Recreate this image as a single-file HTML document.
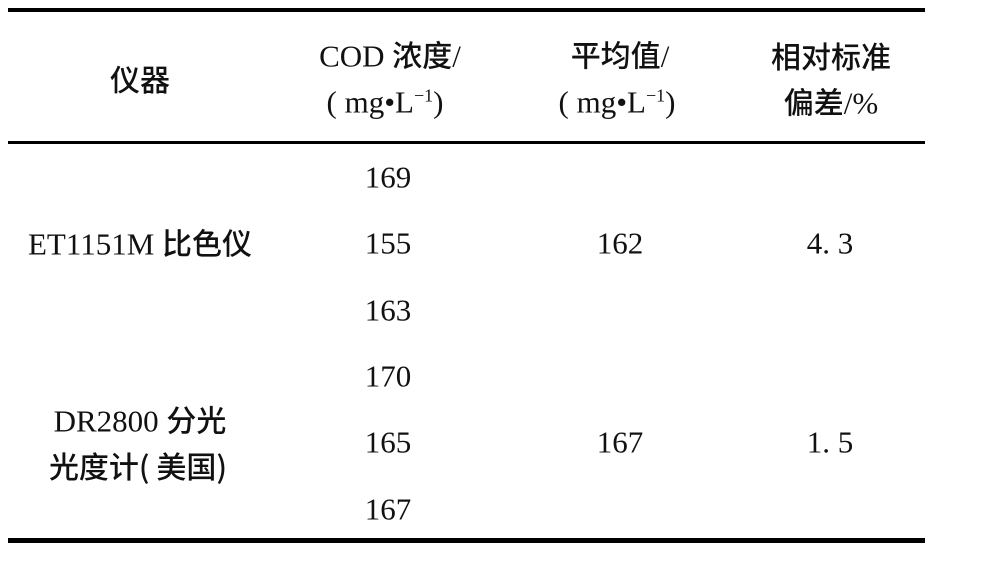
<!DOCTYPE html>
<html><head><meta charset="utf-8"><style>
html,body{margin:0;padding:0;background:#fff;}
body{width:985px;height:565px;position:relative;overflow:hidden;color:#111;}
.r{position:absolute;left:8px;width:917px;background:#000;}
.t{position:absolute;transform:translate(-50%,-50%);white-space:nowrap;font-family:"Liberation Serif","Noto Sans CJK SC",serif;font-size:31px;line-height:1;}
.c{font-family:"Noto Sans CJK SC","WenQuanYi Zen Hei",sans-serif;font-size:30px;font-weight:500;}
sup{font-size:18px;vertical-align:11px;}
</style></head><body>
<div class="r" style="top:8px;height:4px"></div>
<div class="r" style="top:141px;height:3px"></div>
<div class="r" style="top:538px;height:5px"></div>

<div class="t c" style="left:140px;top:78px">仪器</div>
<div class="t" style="left:390px;top:55px">COD <span class="c">浓度</span>/</div>
<div class="t" style="left:385px;top:102px">( mg•L<sup>−1</sup>)</div>
<div class="t" style="left:620px;top:55px"><span class="c">平均值</span>/</div>
<div class="t" style="left:617px;top:102px">( mg•L<sup>−1</sup>)</div>
<div class="t c" style="left:831px;top:55px">相对标准</div>
<div class="t" style="left:831px;top:102px"><span class="c">偏差</span>/%</div>

<div class="t" style="left:388px;top:177px">169</div>
<div class="t" style="left:388px;top:243px">155</div>
<div class="t" style="left:388px;top:310px">163</div>
<div class="t" style="left:388px;top:376px">170</div>
<div class="t" style="left:388px;top:442px">165</div>
<div class="t" style="left:388px;top:509px">167</div>

<div class="t" style="left:140px;top:243px">ET1151M <span class="c">比色仪</span></div>
<div class="t" style="left:620px;top:243px">162</div>
<div class="t" style="left:830px;top:243px">4. 3</div>

<div class="t" style="left:140px;top:420px">DR2800 <span class="c">分光</span></div>
<div class="t c" style="left:138px;top:465px">光度计( 美国)</div>
<div class="t" style="left:620px;top:442px">167</div>
<div class="t" style="left:830px;top:442px">1. 5</div>
</body></html>
